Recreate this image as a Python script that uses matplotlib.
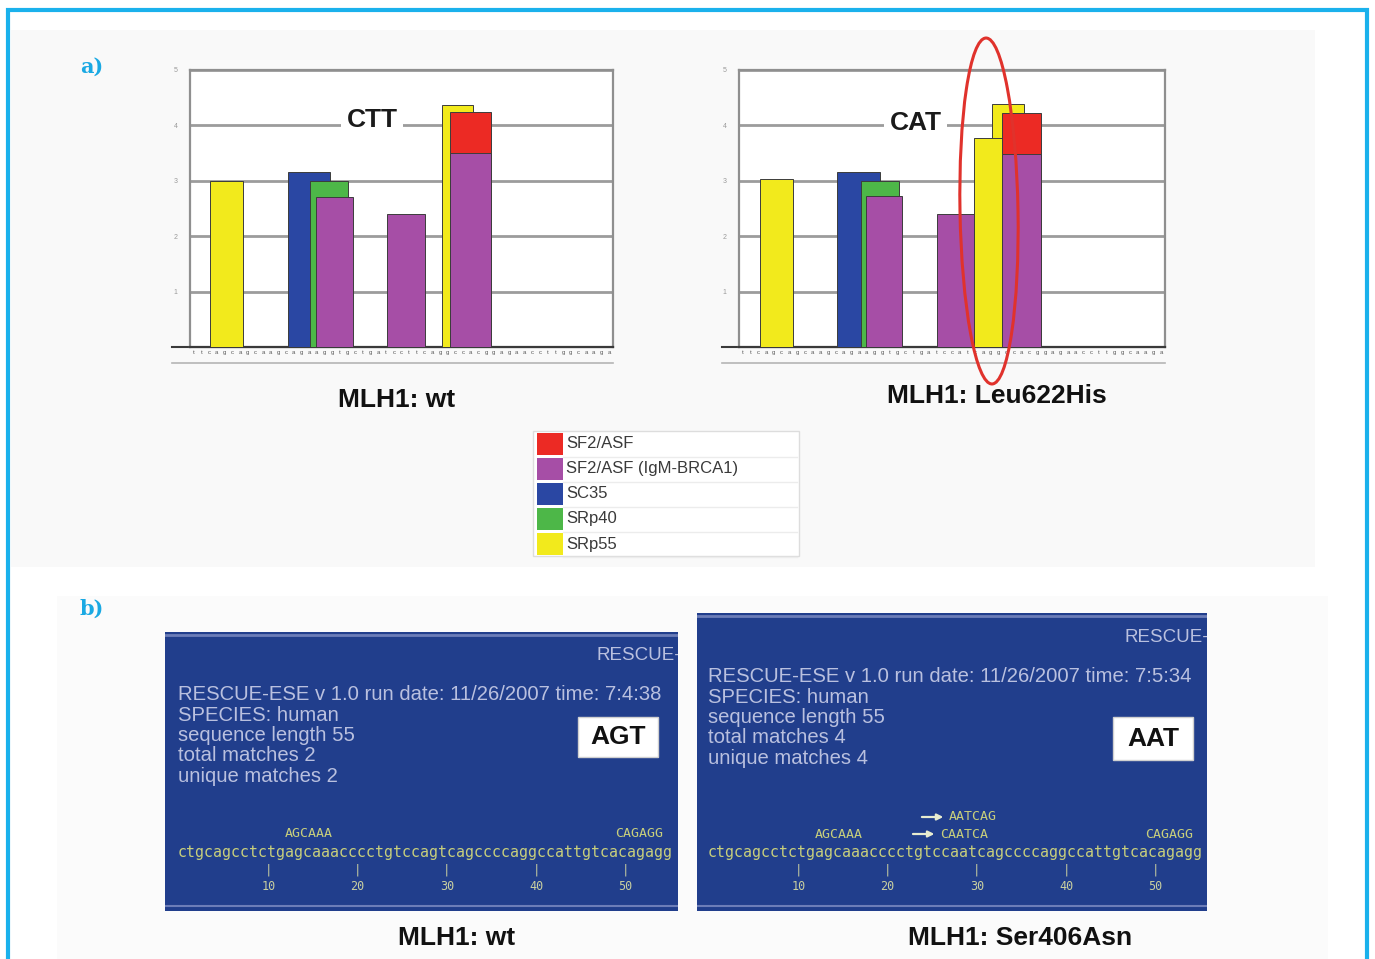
import matplotlib
matplotlib.use('Agg')
import matplotlib.pyplot as plt
from matplotlib.patches import Rectangle, Ellipse

plt.rcParams['font.family'] = ['Liberation Sans', 'DejaVu Sans']

# ---------------- data ----------------
factors = ['SF2/ASF', 'SF2/ASF (IgM-BRCA1)', 'SC35', 'SRp40', 'SRp55']
factor_colors = ['#ec2a24', '#a64ea6', '#2a47a3', '#4db748', '#f2ea1c']

score_ticks = [1, 2, 3, 4, 5]

# panel a, wild type (CTT)
wt_factor = ['SRp55', 'SC35', 'SRp40', 'SF2/ASF (IgM-BRCA1)', 'SF2/ASF (IgM-BRCA1)',
             'SRp55', 'SF2/ASF', 'SF2/ASF (IgM-BRCA1)']
wt_start = [2.6, 12.7, 15.6, 16.4, 25.6, 32.8, 33.8, 33.8]
wt_width = [4.3, 5.5, 5.0, 4.8, 4.9, 4.0, 5.3, 5.3]
wt_score = [3.00, 3.15, 3.00, 2.71, 2.40, 4.37, 4.25, 3.50]

# panel a, Leu622His (CAT)
mut_factor = ['SRp55', 'SC35', 'SRp40', 'SF2/ASF (IgM-BRCA1)', 'SF2/ASF (IgM-BRCA1)',
              'SRp55', 'SRp55', 'SF2/ASF', 'SF2/ASF (IgM-BRCA1)']
mut_start = [2.7, 12.7, 15.8, 16.4, 25.5, 32.7, 30.4, 34.0, 34.0]
mut_width = [4.3, 5.5, 4.9, 4.7, 4.9, 4.1, 4.3, 5.0, 5.0]
mut_score = [3.03, 3.15, 2.99, 2.72, 2.40, 4.39, 3.78, 4.22, 3.49]

chart_seq_wt = "ttcagcagcaagcagaaggtgctgatccttcaggccacggagaaccttggcaaga"
chart_seq_mut = "ttcagcagcaagcagaaggtgctgatccatcaggccacggagaaccttggcaaga"

# panel b, RESCUE-ESE output
b_seq_wt = "ctgcagcctctgagcaaacccctgtccagtcagccccaggccattgtcacagagg"
b_seq_mut = "ctgcagcctctgagcaaacccctgtccaatcagccccaggccattgtcacagagg"
b_lines_wt = ["RESCUE-ESE v 1.0 run date: 11/26/2007 time: 7:4:38",
              "SPECIES: human", "sequence length 55", "total matches 2",
              "unique matches 2"]
b_lines_mut = ["RESCUE-ESE v 1.0 run date: 11/26/2007 time: 7:5:34",
               "SPECIES: human", "sequence length 55", "total matches 4",
               "unique matches 4"]
# motif text, first position (1-based), row (0 = lower), arrow
b_motifs_wt = [("AGCAAA", 13, 0, False), ("CAGAGG", 50, 0, False)]
b_motifs_mut = [("AGCAAA", 13, 0, False), ("CAATCA", 27, 0, True),
                ("AATCAG", 28, 1, True), ("CAGAGG", 50, 0, False)]
ruler = [10, 20, 30, 40, 50]

color_of = dict(zip(factors, factor_colors))

# ---------------- figure ----------------
W, H = 1375, 959
fig = plt.figure(figsize=(W / 100, H / 100), dpi=100)


def px_axes(x0, y0, x1, y1, **kw):
    return fig.add_axes([x0 / W, 1 - y1 / H, (x1 - x0) / W, (y1 - y0) / H], **kw)


bg = px_axes(0, 0, W, H, zorder=0)
bg.set_xlim(0, W)
bg.set_ylim(H, 0)
bg.axis('off')

# backgrounds and frame
bg.add_patch(Rectangle((11, 30), 1304, 537, fc='#f9f9f9', ec='none'))
bg.add_patch(Rectangle((57, 596), 1271, 363, fc='#fbfbfb', ec='none'))
bg.plot([8, 8, 1367, 1367], [962, 10, 10, 962], color='#1ab1ec', lw=3,
        solid_joinstyle='miter')

bg.text(80, 67, 'a)', fontsize=15, fontweight='bold', color='#1aa9e3',
        family='DejaVu Serif', va='center', ha='left')
bg.text(80, 609, 'b)', fontsize=15, fontweight='bold', color='#1aa9e3',
        family='DejaVu Serif', va='center', ha='left')


def draw_chart(x0, x1, factor, start, width, score, seq, title, tpos):
    ax = px_axes(x0, 70, x1, 347, zorder=2)
    ax.set_xlim(0, 55)
    ax.set_ylim(0, 5)
    ax.set_facecolor('white')
    for f, s, w, h in zip(factor, start, width, score):
        ax.bar(s, h, width=w, align='edge', color=color_of[f],
               edgecolor='#3c3c3c', linewidth=0.7, zorder=3)
    ax.set_yticks(score_ticks)
    ax.set_yticklabels([str(t) for t in score_ticks])
    ax.tick_params(axis='y', length=0, pad=9, labelsize=5, labelcolor='#9a9a9a')
    ax.set_xticks([i + 0.5 for i in range(len(seq))])
    ax.set_xticklabels(list(seq))
    ax.tick_params(axis='x', length=0, pad=2, labelsize=4.3, labelcolor='#555555')
    ax.yaxis.grid(True, color='#9c9c9c', lw=2)
    ax.set_axisbelow(True)
    for side in ['left', 'right', 'top']:
        ax.spines[side].set_color('#8f8f8f')
        ax.spines[side].set_linewidth(1.6)
    ax.spines['bottom'].set_color('#3a3a3a')
    ax.spines['bottom'].set_linewidth(1.6)
    ax.text(tpos[0], tpos[1], title, transform=ax.transAxes, ha='center',
            va='center', fontsize=19, fontweight='bold', color='#1a1a1a',
            bbox=dict(fc='white', ec='none', pad=4), zorder=5)
    return ax


axL = draw_chart(190, 613, wt_factor, wt_start, wt_width, wt_score,
                 chart_seq_wt, 'CTT', (0.43, 0.82))
axR = draw_chart(739, 1165, mut_factor, mut_start, mut_width, mut_score,
                 chart_seq_mut, 'CAT', (0.415, 0.81))

# axis strip decorations
for xa, xb in [(172, 613), (722, 1165)]:
    bg.plot([xa, xb], [347, 347], color='#3a3a3a', lw=1.5, zorder=3)
    bg.plot([xa, xb], [363, 363], color='#b5b5b5', lw=1.2, zorder=3)

bg.text(397, 400, 'MLH1: wt', fontsize=19, fontweight='bold', ha='center',
        va='center', color='#111111')
bg.text(997, 396, 'MLH1: Leu622His', fontsize=19, fontweight='bold',
        ha='center', va='center', color='#111111')

# legend
bg.add_patch(Rectangle((533, 431), 266, 125, fc='white', ec='#dddddd', lw=1))
for i, (name, col) in enumerate(zip(factors, factor_colors)):
    yc = 444 + i * 25
    bg.add_patch(Rectangle((537, yc - 11), 26, 22, fc=col, ec='none'))
    bg.plot([563, 797], [yc + 12.5, yc + 12.5], color='#ececec', lw=1)
    bg.text(566, yc, name, fontsize=12, color='#3a3a3a', va='center',
            ha='left')

# red ellipse highlighting the new SRp55 site
ov = px_axes(0, 0, W, H, zorder=6)
ov.set_xlim(0, W)
ov.set_ylim(H, 0)
ov.axis('off')
ov.add_patch(Ellipse((989, 211), 58, 346, angle=-1, fill=False,
                     ec='#e0322c', lw=2.2))


def blue_panel(x0, y0, x1, y1, head_y, lines, text_y0, box, box_text,
               seq, motifs, seq_x0):
    ax = px_axes(x0, y0, x1, y1, zorder=2)
    ax.set_xlim(x0, x1)
    ax.set_ylim(y1, y0)
    ax.axis('off')
    ax.add_patch(Rectangle((x0, y0), x1 - x0, y1 - y0, fc='#213e8c', ec='none'))
    ax.plot([x0, x1], [y0 + 3, y0 + 3], color='#6c7db8', lw=2)
    ax.plot([x0, x1], [y1 - 5, y1 - 5], color='#6c7db8', lw=1.5)
    tc = '#b9c0df'
    ax.text(x1 - 82, head_y, 'RESCUE-ESE', fontsize=13.5, color=tc, ha='left',
            va='center', clip_on=True)
    for i, line in enumerate(lines):
        ax.text(seq_x0, text_y0 + i * 20.3, line, fontsize=14.6, color=tc,
                ha='left', va='center', clip_on=True)
    bx, by, bw, bh = box
    ax.add_patch(Rectangle((bx, by), bw, bh, fc='white', ec='#d0d0d0', lw=1))
    ax.text(bx + bw / 2, by + bh / 2, box_text, fontsize=19, color='#111111',
            ha='center', va='center', fontweight='bold')
    cw = 8.93
    mc = '#c8cf7c'
    ax.text(seq_x0, 853, seq, family='DejaVu Sans Mono', fontsize=10.7,
            color=mc, ha='left', va='center', clip_on=True)
    for m, pos, row, arrow in motifs:
        xm = seq_x0 + (pos - 1) * cw
        ym = 834 - row * 17
        ax.text(xm, ym, m, family='DejaVu Sans Mono', fontsize=9.5,
                color=mc, ha='left', va='center', clip_on=True)
        if arrow:
            ax.annotate('', xy=(xm - 3, ym), xytext=(xm - 30, ym),
                        arrowprops=dict(arrowstyle='-|>', color='#e8ecd0',
                                        lw=1.6, mutation_scale=9))
    for n in ruler:
        xt = seq_x0 + n * cw + 1
        ax.text(xt, 870, '|', family='DejaVu Sans Mono', fontsize=9,
                color='#c9cfa0', ha='center', va='center')
        ax.text(xt, 887, str(n), family='DejaVu Sans Mono', fontsize=8.5,
                color='#c9cfa0', ha='center', va='center')
    return ax


blue_panel(165, 632, 678, 911, 655, b_lines_wt, 695, (578, 717, 80, 40),
           'AGT', b_seq_wt, b_motifs_wt, 178)
blue_panel(697, 613, 1207, 911, 637, b_lines_mut, 677, (1113, 717, 80, 43),
           'AAT', b_seq_mut, b_motifs_mut, 708)

bg.text(457, 938, 'MLH1: wt', fontsize=19, fontweight='bold', ha='center',
        va='center', color='#111111')
bg.text(1020, 938, 'MLH1: Ser406Asn', fontsize=19, fontweight='bold',
        ha='center', va='center', color='#111111')

fig.savefig('out.png', dpi=100)
